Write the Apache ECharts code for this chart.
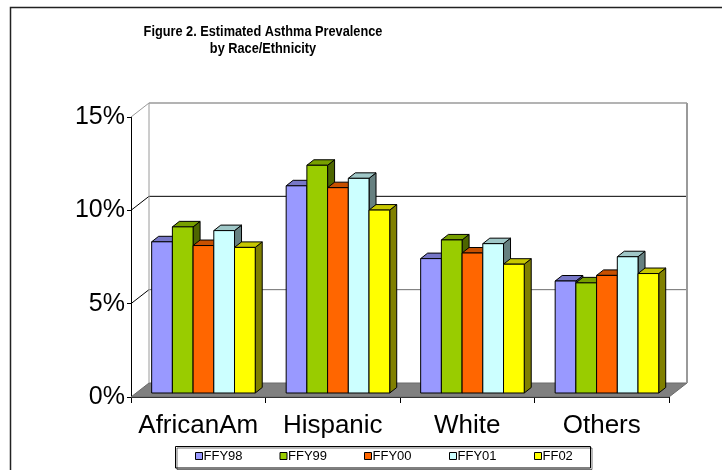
<!DOCTYPE html>
<html>
<head>
<meta charset="utf-8">
<script src="https://cdn.jsdelivr.net/npm/echarts@6/dist/echarts.min.js"></script>
<style>
  html, body { margin: 0; padding: 0; background: #fff; }
  #chart { width: 722px; height: 470px; }
</style>
</head>
<body>
<div id="chart"></div>
<script>
// Race/ethnicity groups along the x axis
const categories = ['AfricanAm', 'Hispanic', 'White', 'Others'];

// Estimated asthma prevalence (%) per fiscal year
const seriesNames = ['FFY98', 'FFY99', 'FFY00', 'FFY01', 'FF02'];
const ffy98 = [8.1, 11.1, 7.2, 6.0];
const ffy99 = [8.9, 12.2, 8.2, 5.9];
const ffy00 = [7.9, 11.0, 7.5, 6.3];
const ffy01 = [8.7, 11.5, 8.0, 7.3];
const ff02  = [7.8, 9.8, 6.9, 6.4];
const seriesValues = [ffy98, ffy99, ffy00, ffy01, ff02];

// Value axis ticks (%)
const yTicks = [0, 5, 10, 15];

const colors = ['#9999FF', '#99CC00', '#FF6600', '#CCFFFF', '#FFFF00'];

// Pseudo-3D geometry: offset of the back wall relative to the front axis plane
const WALL_DX = 18, WALL_DY = 14;
// Front face of the bars sits slightly behind the front plane
const BAR_DX = 5.2, BAR_DY = 4;
// Depth of each column
const DEPTH_DX = 7, DEPTH_DY = 5.5;
// Column width as a fraction of one category band
const BAR_FRAC = 0.154;

function shade(hex, k) {
  const n = parseInt(hex.slice(1), 16);
  const r = Math.round(((n >> 16) & 255) * k);
  const g = Math.round(((n >> 8) & 255) * k);
  const b = Math.round((n & 255) * k);
  return 'rgb(' + r + ',' + g + ',' + b + ')';
}

// Floor, back wall and side-wall grid lines
function renderWalls(params, api) {
  const v = api.value(1);
  const cs = params.coordSys;
  const x0 = cs.x, x1 = cs.x + cs.width;
  const y = api.coord([0, v])[1];
  const children = [];
  if (v === 0) {
    children.push({
      type: 'polygon',
      shape: { points: [[x0, y], [x0 + WALL_DX, y - WALL_DY], [x1 + WALL_DX, y - WALL_DY], [x1, y]] },
      style: { fill: '#808080', stroke: '#6a6a6a', lineWidth: 1 }
    });
  } else {
    const isTop = v === yTicks[yTicks.length - 1];
    const col = v === 10 ? '#000' : '#6e6e6e';
    children.push({
      type: 'polyline',
      shape: { points: [[x0, y], [x0 + WALL_DX, y - WALL_DY]] },
      style: { stroke: isTop ? '#9a9a9a' : '#000', lineWidth: 1, fill: null }
    });
    if (!isTop) {
      children.push({
        type: 'line',
        shape: { x1: x0 + WALL_DX, y1: y - WALL_DY, x2: x1 + WALL_DX, y2: y - WALL_DY },
        style: { stroke: col, lineWidth: 1 }
      });
    } else {
      const yb = api.coord([0, 0])[1] - WALL_DY;
      children.push({
        type: 'line',
        shape: { x1: x0 + WALL_DX, y1: y - WALL_DY, x2: x1 + WALL_DX, y2: y - WALL_DY },
        style: { stroke: '#9a9a9a', lineWidth: 1.5 }
      });
      children.push({
        type: 'line',
        shape: { x1: x0 + WALL_DX, y1: y - WALL_DY, x2: x0 + WALL_DX, y2: yb },
        style: { stroke: '#9a9a9a', lineWidth: 1 }
      });
      children.push({
        type: 'line',
        shape: { x1: x1 + WALL_DX, y1: y - WALL_DY, x2: x1 + WALL_DX, y2: yb },
        style: { stroke: '#9a9a9a', lineWidth: 2 }
      });
    }
  }
  return { type: 'group', children: children };
}

// One 3D column: side face, top face, then front face
function makeBarRenderer(idx, color) {
  const topColor = shade(color, 0.78);
  const sideColor = shade(color, 0.5);
  const n = seriesNames.length;
  return function (params, api) {
    const ci = api.value(0);
    const top = api.coord([ci, api.value(1)]);
    const base = api.coord([ci, 0]);
    const bw = api.size([1, 0])[0] * BAR_FRAC;
    const xl = top[0] + BAR_DX + (idx - n / 2) * bw;
    const xr = xl + bw;
    const yt = top[1] - BAR_DY;
    const yb = base[1] - BAR_DY;
    const st = { stroke: '#000', lineWidth: 1, lineJoin: 'round' };
    return {
      type: 'group',
      children: [
        { type: 'polygon', shape: { points: [[xr, yt], [xr + DEPTH_DX, yt - DEPTH_DY], [xr + DEPTH_DX, yb - DEPTH_DY], [xr, yb]] },
          style: Object.assign({ fill: sideColor }, st) },
        { type: 'polygon', shape: { points: [[xl, yt], [xl + DEPTH_DX, yt - DEPTH_DY], [xr + DEPTH_DX, yt - DEPTH_DY], [xr, yt]] },
          style: Object.assign({ fill: topColor }, st) },
        { type: 'rect', shape: { x: xl, y: yt, width: bw, height: yb - yt },
          style: Object.assign({ fill: color }, st) }
      ]
    };
  };
}

const chart = echarts.init(document.getElementById('chart'), null, { renderer: 'canvas' });

const series = [{
  type: 'custom',
  name: 'walls',
  silent: true,
  z: 1,
  renderItem: renderWalls,
  encode: { x: 0, y: 1 },
  data: yTicks.map(v => [0, v])
}];

seriesNames.forEach((name, i) => {
  series.push({
    type: 'custom',
    name: name,
    z: 2 + i,
    itemStyle: { color: colors[i] },
    renderItem: makeBarRenderer(i, colors[i]),
    encode: { x: 0, y: 1 },
    data: seriesValues[i].map((v, j) => [j, v])
  });
});

const legendLeft = [195, 279.5, 364, 449, 534];
const legends = seriesNames.map((name, i) => ({
  data: [name],
  left: legendLeft[i],
  top: 449,
  padding: 0,
  itemWidth: 7,
  itemHeight: 7,
  icon: 'rect',
  itemStyle: { borderColor: '#000', borderWidth: 1 },
  textStyle: { fontFamily: 'Liberation Sans, Arial, sans-serif', fontSize: 13, color: '#000', lineHeight: 14, padding: [0, 0, 0, -4] },
  selectedMode: false
}));

chart.setOption({
  animation: false,
  backgroundColor: '#fff',
  legend: legends,
  grid: { left: 131, right: 53, top: 117, bottom: 73, containLabel: false },
  xAxis: {
    type: 'category',
    data: categories,
    axisLine: { lineStyle: { color: '#000', width: 1 } },
    axisTick: { show: true, length: 6, lineStyle: { color: '#000' } },
    axisLabel: { interval: 0, fontFamily: 'Liberation Sans, Arial, sans-serif', fontSize: 26, color: '#000', margin: 16 },
    splitLine: { show: false }
  },
  yAxis: {
    type: 'value',
    min: 0,
    max: 15,
    interval: 5,
    axisLine: { show: true, lineStyle: { color: '#000', width: 1 } },
    axisTick: { show: true, length: 4, lineStyle: { color: '#000' } },
    axisLabel: { fontFamily: 'Liberation Sans, Arial, sans-serif', fontSize: 25, color: '#000', margin: 6, formatter: '{value}%' },
    splitLine: { show: false }
  },
  graphic: [
    {
      type: 'rect',
      shape: { x: 10.5, y: 7.5, width: 740, height: 480 },
      style: { fill: null, stroke: '#222', lineWidth: 1.5 },
      silent: true
    },
    {
      // Chart title, set in a condensed bold face
      type: 'text',
      x: 263,
      y: 23,
      scaleX: 0.85,
      style: {
        text: 'Figure 2. Estimated Asthma Prevalence\nby Race/Ethnicity',
        fontFamily: 'Liberation Sans, Arial, sans-serif',
        fontWeight: 'bold',
        fontSize: 15,
        lineHeight: 17,
        fill: '#000',
        align: 'center',
        verticalAlign: 'top'
      },
      silent: true
    },
    {
      type: 'rect',
      shape: { x: 175.5, y: 446.5, width: 415, height: 21.5 },
      style: { fill: null, stroke: '#000', lineWidth: 1, shadowColor: 'rgba(0,0,0,0.55)', shadowOffsetX: 1.5, shadowOffsetY: 1.5 },
      silent: true,
      z: -1
    }
  ],
  series: series
});
</script>
</body>
</html>
